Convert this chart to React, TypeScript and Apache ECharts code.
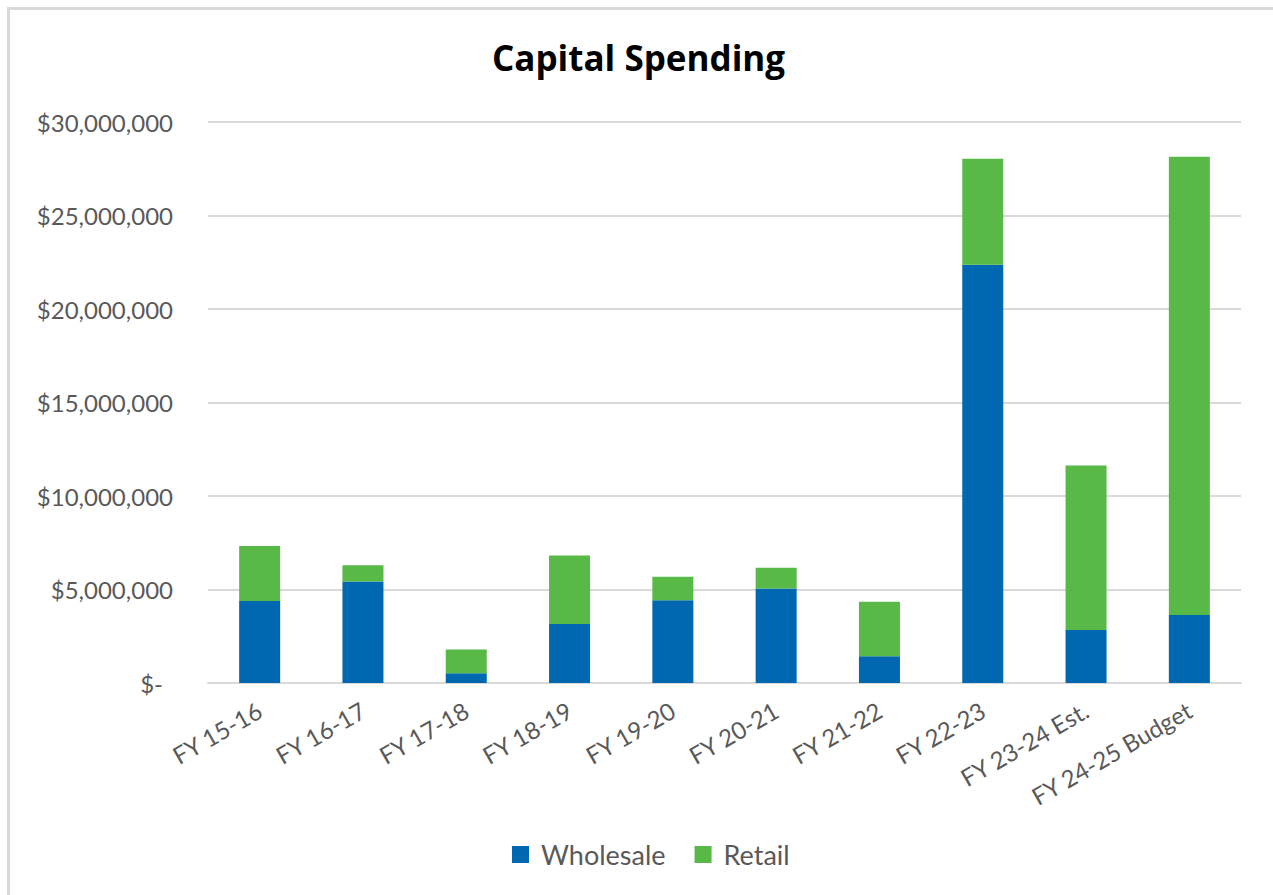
import React, { useEffect, useRef } from "react";
import * as echarts from "echarts";

const categories = [
  "FY 15-16",
  "FY 16-17",
  "FY 17-18",
  "FY 18-19",
  "FY 19-20",
  "FY 20-21",
  "FY 21-22",
  "FY 22-23",
  "FY 23-24 Est.",
  "FY 24-25 Budget",
];
const wholesale = [4390000, 5430000, 520000, 3160000, 4420000, 5050000, 1430000, 22360000, 2840000, 3640000];
const retail = [2940000, 870000, 1270000, 3660000, 1260000, 1110000, 2910000, 5680000, 8790000, 24500000];

const FONT = "Lato";
const GREY = "#595959";

function fmt(v: number) {
  if (v === 0) return "{z|$-}";
  return "$" + v.toLocaleString("en-US");
}

export default function App() {
  const ref = useRef<HTMLDivElement>(null);
  useEffect(() => {
    const chart = echarts.init(ref.current!, undefined, { renderer: "svg" });
    chart.setOption({
      animation: false,
      textStyle: { fontFamily: FONT },
      title: {
        text: "Capital Spending",
        left: 487,
        top: 35,
        textStyle: { fontFamily: "Open Sans", fontWeight: "bold", fontSize: 35, color: "#000" },
      },
      legend: {
        left: 507,
        top: 836,
        itemWidth: 17,
        itemHeight: 17,
        itemGap: 29,
        icon: "rect",
        textStyle: { fontFamily: FONT, fontSize: 27, color: GREY, padding: [0, 0, 0, 7] },
        data: ["Wholesale", "Retail"],
      },
      grid: { left: 208, right: 32, top: 122, bottom: 212, containLabel: false },
      xAxis: {
        type: "category",
        data: categories,
        axisLine: { lineStyle: { color: "#d9d9d9", width: 2 } },
        axisTick: { show: false },
        axisLabel: {
          rotate: 30,
          margin: 25,
          interval: 0,
          fontFamily: FONT,
          fontSize: 24,
          color: GREY,
        },
      },
      yAxis: {
        type: "value",
        min: 0,
        max: 30000000,
        interval: 5000000,
        axisLine: { show: false },
        axisTick: { show: false },
        splitLine: { lineStyle: { color: "#d9d9d9", width: 2 } },
        axisLabel: {
          margin: 35,
          fontFamily: FONT,
          fontSize: 24,
          color: GREY,
          formatter: fmt,
          rich: { z: { fontFamily: FONT, fontSize: 24, color: GREY, padding: [0, 10, 0, 0] } },
        },
      },
      series: [
        {
          name: "Wholesale",
          type: "bar",
          stack: "total",
          barWidth: 41,
          data: wholesale,
          itemStyle: { color: "#0067B1" },
        },
        {
          name: "Retail",
          type: "bar",
          stack: "total",
          barWidth: 41,
          data: retail,
          itemStyle: { color: "#58B947" },
        },
      ],
    });
    return () => chart.dispose();
  }, []);
  return (
    <div style={{ position: "absolute", left: 0, top: 0, width: 1273, height: 895, overflow: "hidden", background: "#fff" }}>
      <div ref={ref} style={{ position: "absolute", left: 0, top: 0, width: 1273, height: 895 }} />
      <div
        style={{
          position: "absolute",
          left: 7,
          top: 7,
          width: 1280,
          height: 900,
          border: "3px solid #d9d9d9",
          pointerEvents: "none",
        }}
      />
    </div>
  );
}
